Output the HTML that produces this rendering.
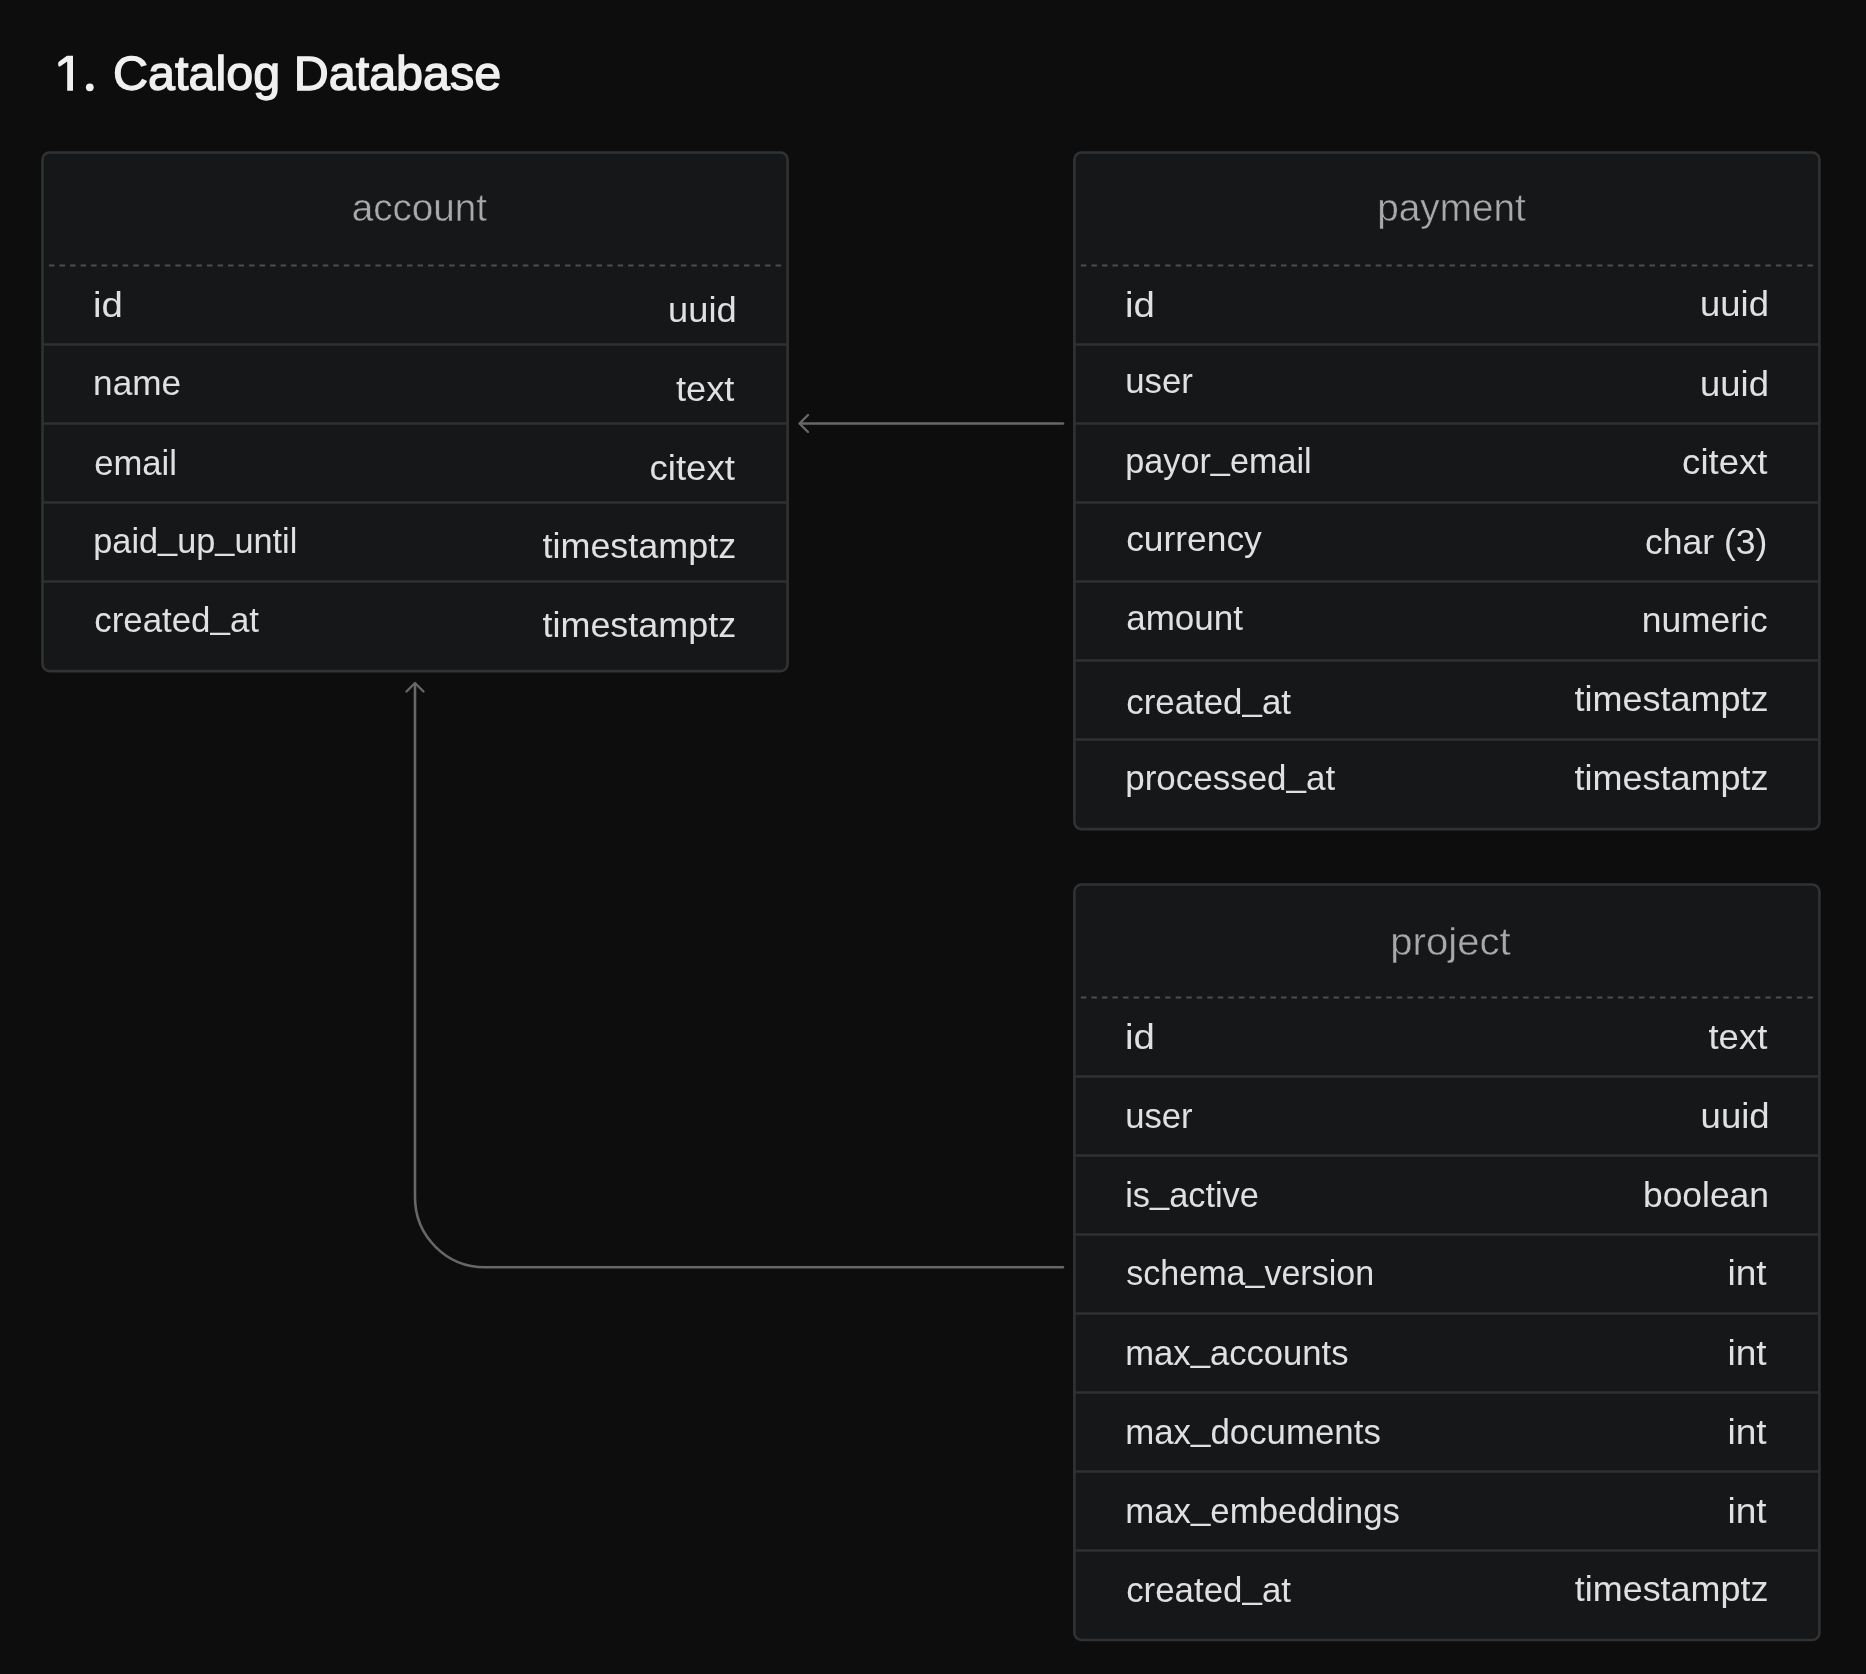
<!DOCTYPE html><html><head><meta charset="utf-8"><style>html,body{margin:0;padding:0;background:#0d0d0d;width:1866px;height:1674px;overflow:hidden}svg{display:block;will-change:transform}text{font-family:"Liberation Sans",sans-serif}</style></head><body>
<svg width="1866" height="1674" viewBox="0 0 1866 1674">
<rect x="0" y="0" width="1866" height="1674" fill="#0d0d0d"/>
<g fill="none" stroke="#666769" stroke-width="2.6" stroke-linecap="round" stroke-linejoin="round">
<path d="M1063 423.5 H800"/>
<path d="M808 415 L799.5 423.5 L808 432" stroke-width="2.4"/>
<path d="M1063 1267.3 H485 A70 70 0 0 1 415 1197.3 V684"/>
<path d="M406.5 691.5 L415 683 L423.5 691.5" stroke-width="2.4"/>
</g>
<path fill="#f0f0f0" d="M67.2 55.8 H73.0 V90.7 H67.2 V61.4 L60.4 66.2 Q58.3 67.2 58.2 64.9 L58.2 63.0 Q58.3 61.9 59.4 61.3 L66.6 56.0 Z"/>
<circle cx="89.8" cy="87.3" r="3.9" fill="#f0f0f0"/>
<rect x="42.50" y="152.50" width="745.10" height="518.60" rx="7" ry="7" fill="#161719" stroke="#313234" stroke-width="2.6"/>
<line x1="49.00" y1="265.50" x2="786.30" y2="265.50" stroke="#4d4e50" stroke-width="2" stroke-dasharray="5.5 5.03"/>
<line x1="42.50" y1="344.50" x2="787.60" y2="344.50" stroke="#2f3032" stroke-width="2.6"/>
<line x1="42.50" y1="423.50" x2="787.60" y2="423.50" stroke="#2f3032" stroke-width="2.6"/>
<line x1="42.50" y1="502.50" x2="787.60" y2="502.50" stroke="#2f3032" stroke-width="2.6"/>
<line x1="42.50" y1="581.50" x2="787.60" y2="581.50" stroke="#2f3032" stroke-width="2.6"/>
<rect x="1074.40" y="152.50" width="745.00" height="676.60" rx="7" ry="7" fill="#161719" stroke="#313234" stroke-width="2.6"/>
<line x1="1080.90" y1="265.50" x2="1818.10" y2="265.50" stroke="#4d4e50" stroke-width="2" stroke-dasharray="5.5 5.03"/>
<line x1="1074.40" y1="344.50" x2="1819.40" y2="344.50" stroke="#2f3032" stroke-width="2.6"/>
<line x1="1074.40" y1="423.50" x2="1819.40" y2="423.50" stroke="#2f3032" stroke-width="2.6"/>
<line x1="1074.40" y1="502.50" x2="1819.40" y2="502.50" stroke="#2f3032" stroke-width="2.6"/>
<line x1="1074.40" y1="581.50" x2="1819.40" y2="581.50" stroke="#2f3032" stroke-width="2.6"/>
<line x1="1074.40" y1="660.50" x2="1819.40" y2="660.50" stroke="#2f3032" stroke-width="2.6"/>
<line x1="1074.40" y1="739.50" x2="1819.40" y2="739.50" stroke="#2f3032" stroke-width="2.6"/>
<rect x="1074.40" y="884.50" width="745.00" height="755.50" rx="7" ry="7" fill="#161719" stroke="#313234" stroke-width="2.6"/>
<line x1="1080.90" y1="997.50" x2="1818.10" y2="997.50" stroke="#4d4e50" stroke-width="2" stroke-dasharray="5.5 5.03"/>
<line x1="1074.40" y1="1076.50" x2="1819.40" y2="1076.50" stroke="#2f3032" stroke-width="2.6"/>
<line x1="1074.40" y1="1155.50" x2="1819.40" y2="1155.50" stroke="#2f3032" stroke-width="2.6"/>
<line x1="1074.40" y1="1234.50" x2="1819.40" y2="1234.50" stroke="#2f3032" stroke-width="2.6"/>
<line x1="1074.40" y1="1313.50" x2="1819.40" y2="1313.50" stroke="#2f3032" stroke-width="2.6"/>
<line x1="1074.40" y1="1392.50" x2="1819.40" y2="1392.50" stroke="#2f3032" stroke-width="2.6"/>
<line x1="1074.40" y1="1471.50" x2="1819.40" y2="1471.50" stroke="#2f3032" stroke-width="2.6"/>
<line x1="1074.40" y1="1550.50" x2="1819.40" y2="1550.50" stroke="#2f3032" stroke-width="2.6"/>
<text x="113.10" y="90.20" font-size="48" fill="#f0f0f0" stroke="#f0f0f0" stroke-width="1.3" textLength="388.17" lengthAdjust="spacingAndGlyphs">Catalog Database</text>
<text x="351.66" y="221.10" font-size="38" fill="#a9a9aa" stroke="#161719" stroke-width="0.45" textLength="135.34" lengthAdjust="spacingAndGlyphs">account</text>
<text x="1377.31" y="221.00" font-size="38" fill="#a9a9aa" stroke="#161719" stroke-width="0.45" textLength="148.43" lengthAdjust="spacingAndGlyphs">payment</text>
<text x="1390.30" y="954.50" font-size="38" fill="#a9a9aa" stroke="#161719" stroke-width="0.45" textLength="120.40" lengthAdjust="spacingAndGlyphs">project</text>
<text x="92.91" y="317.10" font-size="35" fill="#e0e0e2" textLength="29.87" lengthAdjust="spacingAndGlyphs">id</text>
<text x="668.10" y="322.00" font-size="35" fill="#e0e0e2" textLength="68.62" lengthAdjust="spacingAndGlyphs">uuid</text>
<text x="93.14" y="395.40" font-size="35" fill="#e0e0e2" textLength="88.03" lengthAdjust="spacingAndGlyphs">name</text>
<text x="675.99" y="401.00" font-size="35" fill="#e0e0e2" textLength="58.44" lengthAdjust="spacingAndGlyphs">text</text>
<text x="94.21" y="474.50" font-size="35" fill="#e0e0e2" textLength="82.81" lengthAdjust="spacingAndGlyphs">email</text>
<text x="649.50" y="480.20" font-size="35" fill="#e0e0e2" textLength="85.42" lengthAdjust="spacingAndGlyphs">citext</text>
<text x="93.28" y="553.30" font-size="35" fill="#e0e0e2" textLength="204.00" lengthAdjust="spacingAndGlyphs">paid<tspan dy="-4.0">_</tspan><tspan dy="4.0">up</tspan><tspan dy="-4.0">_</tspan><tspan dy="4.0">until</tspan></text>
<text x="542.49" y="558.30" font-size="35" fill="#e0e0e2" textLength="193.70" lengthAdjust="spacingAndGlyphs">timestamptz</text>
<text x="94.21" y="631.60" font-size="35" fill="#e0e0e2" textLength="164.80" lengthAdjust="spacingAndGlyphs">created<tspan dy="-4.0">_</tspan><tspan dy="4.0">at</tspan></text>
<text x="542.49" y="636.90" font-size="35" fill="#e0e0e2" textLength="193.70" lengthAdjust="spacingAndGlyphs">timestamptz</text>
<text x="1124.91" y="316.80" font-size="35" fill="#e0e0e2" textLength="29.87" lengthAdjust="spacingAndGlyphs">id</text>
<text x="1700.05" y="316.00" font-size="35" fill="#e0e0e2" textLength="68.84" lengthAdjust="spacingAndGlyphs">uuid</text>
<text x="1125.20" y="392.80" font-size="35" fill="#e0e0e2" textLength="67.68" lengthAdjust="spacingAndGlyphs">user</text>
<text x="1700.05" y="395.60" font-size="35" fill="#e0e0e2" textLength="68.84" lengthAdjust="spacingAndGlyphs">uuid</text>
<text x="1125.25" y="472.50" font-size="35" fill="#e0e0e2" textLength="186.40" lengthAdjust="spacingAndGlyphs">payor<tspan dy="-4.0">_</tspan><tspan dy="4.0">email</tspan></text>
<text x="1682.14" y="474.40" font-size="35" fill="#e0e0e2" textLength="85.21" lengthAdjust="spacingAndGlyphs">citext</text>
<text x="1126.15" y="550.70" font-size="35" fill="#e0e0e2" textLength="135.68" lengthAdjust="spacingAndGlyphs">currency</text>
<text x="1645.00" y="554.00" font-size="35" fill="#e0e0e2" textLength="122.45" lengthAdjust="spacingAndGlyphs">char (3)</text>
<text x="1126.20" y="629.70" font-size="35" fill="#e0e0e2" textLength="116.77" lengthAdjust="spacingAndGlyphs">amount</text>
<text x="1641.69" y="632.40" font-size="35" fill="#e0e0e2" textLength="125.93" lengthAdjust="spacingAndGlyphs">numeric</text>
<text x="1126.21" y="713.80" font-size="35" fill="#e0e0e2" textLength="164.80" lengthAdjust="spacingAndGlyphs">created<tspan dy="-4.0">_</tspan><tspan dy="4.0">at</tspan></text>
<text x="1574.47" y="710.80" font-size="35" fill="#e0e0e2" textLength="193.91" lengthAdjust="spacingAndGlyphs">timestamptz</text>
<text x="1125.23" y="790.00" font-size="35" fill="#e0e0e2" textLength="209.95" lengthAdjust="spacingAndGlyphs">processed<tspan dy="-4.0">_</tspan><tspan dy="4.0">at</tspan></text>
<text x="1574.47" y="790.00" font-size="35" fill="#e0e0e2" textLength="193.91" lengthAdjust="spacingAndGlyphs">timestamptz</text>
<text x="1124.91" y="1048.60" font-size="35" fill="#e0e0e2" textLength="29.87" lengthAdjust="spacingAndGlyphs">id</text>
<text x="1708.48" y="1048.60" font-size="35" fill="#e0e0e2" textLength="58.89" lengthAdjust="spacingAndGlyphs">text</text>
<text x="1125.20" y="1127.80" font-size="35" fill="#e0e0e2" textLength="67.49" lengthAdjust="spacingAndGlyphs">user</text>
<text x="1700.62" y="1127.80" font-size="35" fill="#e0e0e2" textLength="69.00" lengthAdjust="spacingAndGlyphs">uuid</text>
<text x="1125.20" y="1207.20" font-size="35" fill="#e0e0e2" textLength="133.73" lengthAdjust="spacingAndGlyphs">is<tspan dy="-4.0">_</tspan><tspan dy="4.0">active</tspan></text>
<text x="1642.97" y="1207.20" font-size="35" fill="#e0e0e2" textLength="126.05" lengthAdjust="spacingAndGlyphs">boolean</text>
<text x="1126.24" y="1285.40" font-size="35" fill="#e0e0e2" textLength="247.93" lengthAdjust="spacingAndGlyphs">schema<tspan dy="-4.0">_</tspan><tspan dy="4.0">version</tspan></text>
<text x="1727.41" y="1285.40" font-size="35" fill="#e0e0e2" textLength="39.18" lengthAdjust="spacingAndGlyphs">int</text>
<text x="1125.21" y="1364.80" font-size="35" fill="#e0e0e2" textLength="223.27" lengthAdjust="spacingAndGlyphs">max<tspan dy="-4.0">_</tspan><tspan dy="4.0">accounts</tspan></text>
<text x="1727.41" y="1364.80" font-size="35" fill="#e0e0e2" textLength="39.18" lengthAdjust="spacingAndGlyphs">int</text>
<text x="1125.20" y="1444.00" font-size="35" fill="#e0e0e2" textLength="255.62" lengthAdjust="spacingAndGlyphs">max<tspan dy="-4.0">_</tspan><tspan dy="4.0">documents</tspan></text>
<text x="1727.41" y="1444.00" font-size="35" fill="#e0e0e2" textLength="39.18" lengthAdjust="spacingAndGlyphs">int</text>
<text x="1125.24" y="1522.80" font-size="35" fill="#e0e0e2" textLength="274.67" lengthAdjust="spacingAndGlyphs">max<tspan dy="-4.0">_</tspan><tspan dy="4.0">embeddings</tspan></text>
<text x="1727.41" y="1522.80" font-size="35" fill="#e0e0e2" textLength="39.18" lengthAdjust="spacingAndGlyphs">int</text>
<text x="1126.17" y="1601.80" font-size="35" fill="#e0e0e2" textLength="164.85" lengthAdjust="spacingAndGlyphs">created<tspan dy="-4.0">_</tspan><tspan dy="4.0">at</tspan></text>
<text x="1574.85" y="1600.80" font-size="35" fill="#e0e0e2" textLength="193.52" lengthAdjust="spacingAndGlyphs">timestamptz</text>
</svg></body></html>
